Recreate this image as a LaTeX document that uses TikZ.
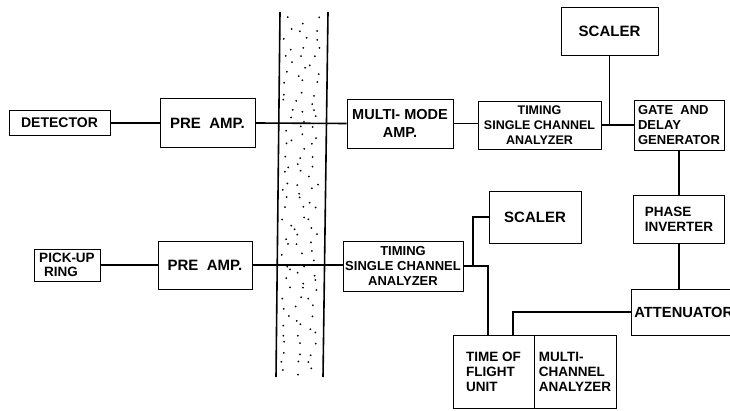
\documentclass[tikz,border=0pt]{standalone}
\usepackage{fontspec}
\setmainfont{Liberation Sans}
\begin{document}
\begin{tikzpicture}[x=1pt,y=-1pt,
  box/.style={draw, line width=0.9pt, inner sep=0pt, align=center,
    font=\bfseries\fontsize{13}{15}\selectfont},
  conn/.style={line width=1.6pt},
  bandline/.style={line width=1.6pt}]
\clip (0,0) rectangle (730,411);
\fill[white] (0,0) rectangle (730,411);
% shielding wall
\draw[bandline] (280,12) -- (276,377);
\draw[bandline] (328,12) -- (323,377);
\pgfmathsetseed{23}
\foreach \r in {0,...,39}{
  \foreach \c in {0,1,2}{
    \pgfmathsetmacro\ja{rnd}
    \pgfmathsetmacro\jb{rnd}
    \pgfmathsetmacro\yy{17+\r*9+\ja*7}
    \pgfmathsetmacro\xx{284-4*(\yy-12)/365+\c*13+\jb*10}
    \fill (\xx,\yy) circle (1pt);
  }
}
% upper chain
\node[box, font=\bfseries\fontsize{14}{16}\selectfont, minimum width=101pt, minimum height=25pt] (det) at (59.5,123) {DETECTOR};
\node[box, font=\bfseries\fontsize{15}{17}\selectfont, minimum width=95pt, minimum height=49pt] (pa1) at (207.5,123) {PRE\ \ AMP.};
\node[box, font=\bfseries\fontsize{14.5}{18}\selectfont, minimum width=106pt, minimum height=49pt] (mma) at (400,123.5) {MULTI- MODE\\AMP.};
\node[box, font=\bfseries\fontsize{12.5}{15}\selectfont, minimum width=123pt, minimum height=48pt] (sca1) at (539.5,125) {TIMING\\SINGLE CHANNEL\\ANALYZER};
\node[box, font=\bfseries\fontsize{15}{17}\selectfont, minimum width=97pt, minimum height=48pt] (sc1) at (609.5,31) {SCALER};
\node[box, align=left, minimum width=90pt, minimum height=50pt] (gdg) at (679,125) {GATE\ \ AND\\DELAY\\GENERATOR};
\node[box, align=left, font=\bfseries\fontsize{13.5}{15}\selectfont, minimum width=91pt, minimum height=48pt] (pi) at (679,219) {PHASE\\INVERTER};
\node[box, anchor=west, font=\bfseries\fontsize{14.7}{17}\selectfont, inner xsep=3pt, text width=110pt, align=left, minimum height=46pt] (att) at (631,312) {ATTENUATOR};
% lower chain
\node[box, align=left, font=\bfseries\fontsize{13.5}{14}\selectfont, minimum width=66pt, minimum height=32pt] (pur) at (67,265) {PICK-UP\\\hspace*{5pt}RING};
\node[box, font=\bfseries\fontsize{15}{17}\selectfont, minimum width=94pt, minimum height=48pt] (pa2) at (205,265) {PRE\ \ AMP.};
\node[box, font=\bfseries\fontsize{13}{15}\selectfont, minimum width=120pt, minimum height=50pt] (sca2) at (403,266) {TIMING\\SINGLE CHANNEL\\ANALYZER};
\node[box, font=\bfseries\fontsize{15}{17}\selectfont, minimum width=92pt, minimum height=52pt] (sc2) at (535,217) {SCALER};
\node[box, align=left, font=\bfseries\fontsize{13.5}{15}\selectfont, minimum width=81pt, minimum height=73pt] (tof) at (493.5,371.5) {TIME OF\\FLIGHT\\UNIT};
\node[box, align=left, font=\bfseries\fontsize{13.5}{15}\selectfont, minimum width=82pt, minimum height=73pt] (mca) at (575,371.5) {MULTI-\\CHANNEL\\ANALYZER};
% connectors, upper
\draw[conn] (det.east) -- (pa1.west);
\draw[conn] (pa1.east) -- (mma.west);
\draw[conn] (mma.east) -- (mma.east -| sca1.west);
\draw[conn] (sca1.east) -- (sca1.east -| gdg.west);
\coordinate (j1) at (sc1.south |- sca1.east);
\draw[conn] (sc1.south) -- (j1);
\draw[conn] (gdg.south) -- (pi.north);
\draw[conn] (pi.south) -- (pi.south |- att.north);
\coordinate (tofA) at (513,335);
\draw[conn] (att.west) -| (tofA);
% connectors, lower
\draw[conn] (pur.east) -- (pur.east -| pa2.west);
\draw[conn] (pa2.east) -- (pa2.east -| sca2.west);
\coordinate (tofB) at (488,335);
\draw[conn] (sca2.east) -| (tofB);
\coordinate (j3) at (473,266);
\draw[conn] (j3) |- (sc2.west);
\end{tikzpicture}
\end{document}
